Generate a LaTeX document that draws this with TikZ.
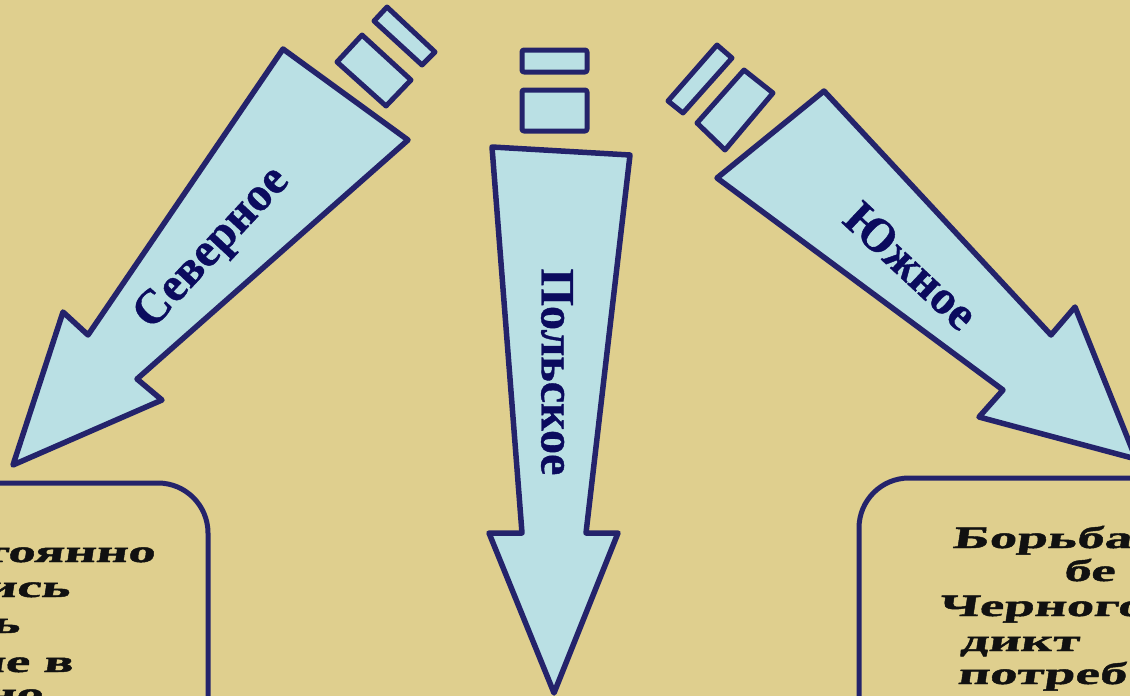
\documentclass[tikz,border=0pt]{standalone}
\usepackage{fontspec}
\setmainfont{Liberation Serif}
\newfontfamily\boxfont{Liberation Serif Bold}[FakeStretch=1.78,FakeSlant=0.15,FakeBold=1.5]
\newfontfamily\lblfont{Liberation Serif Bold}[FakeBold=0.8]
\definecolor{bgcol}{HTML}{DFCF8E}
\definecolor{fillcol}{HTML}{BAE0E4}
\definecolor{edgecol}{HTML}{24236B}
\definecolor{lblcol}{HTML}{0B0B5E}
\definecolor{txtcol}{HTML}{111111}
\tikzset{
  arrowshape/.style={fill=fillcol, draw=edgecol, line width=5.5pt, line join=round},
  tailblock/.style={fill=fillcol, draw=edgecol, line width=5pt, line join=round},
  framebox/.style={draw=edgecol, line width=5pt, rounded corners=50pt},
  arrowlabel/.style={text=lblcol, font=\lblfont\fontsize{48}{56}\selectfont, inner sep=0pt},
  boxtext/.style={text=txtcol, font=\boxfont\fontsize{31}{36}\selectfont, inner sep=0pt}
}
\begin{document}
\begin{tikzpicture}[x=1pt, y=-1pt]
\useasboundingbox (0,0) rectangle (1130,696);
\clip (0,0) rectangle (1130,696);
\fill[bgcol] (0,0) rectangle (1130,696);

% boxes
\draw[framebox] (-60,483) rectangle (208,760);
\draw[framebox] (859,478) rectangle (1200,760);

% left arrow (Северное)
\draw[arrowshape] (283,49) -- (88,335) -- (63,312) -- (13,465) -- (162,400) -- (137,379) -- (408,140) -- cycle;
\draw[tailblock] (362,35) -- (411,80) -- (386,106) -- (337,62) -- cycle;
\draw[tailblock] (387,7) -- (435,52) -- (422,65) -- (374,21) -- cycle;

% middle arrow (Польское)
\draw[arrowshape] (492,147) -- (630,155) -- (586,533) -- (618,533) -- (554,693) -- (489,533) -- (522,533) -- cycle;
\draw[tailblock, rounded corners=2pt] (522,50) rectangle (587,72);
\draw[tailblock, rounded corners=2pt] (522,90) rectangle (587,131);

% right arrow (Южное)
\draw[arrowshape] (824,91) -- (1051,335) -- (1075,307) -- (1136,459) -- (979,417) -- (1003,390) -- (717,178) -- cycle;
\draw[tailblock] (717,45) -- (732,58) -- (683,113) -- (668,101) -- cycle;
\draw[tailblock] (744,70) -- (773,93) -- (725,150) -- (697,123) -- cycle;

% arrow labels
\node[arrowlabel, rotate=47] (north) at (213,249) {Северное};
\node[arrowlabel, rotate=-90] (polish) at (557,372) {Польское};
\node[arrowlabel, rotate=-43] (south) at (911,266) {Южное};

% left box text (cut off)
\node[boxtext, anchor=base east] (l1) at (155,562) {тоянно};
\node[boxtext, anchor=base east] (l2) at (70,597) {ись};
\node[boxtext, anchor=base east] (l3) at (20,633) {ь};
\node[boxtext, anchor=base east] (l4) at (73,672) {ые в};
\node[boxtext, anchor=base east] (l5) at (43,704) {но};

% right box text (cut off)
\node[boxtext, anchor=base west] (r1) at (952,548) {Борьба};
\node[boxtext, anchor=base west] (r2) at (1063,581) {бе};
\node[boxtext, anchor=base west] (r3) at (938,616) {Черного};
\node[boxtext, anchor=base west] (r4) at (960,651) {дикт};
\node[boxtext, anchor=base west] (r5) at (957,684) {потреб};
\end{tikzpicture}
\end{document}
